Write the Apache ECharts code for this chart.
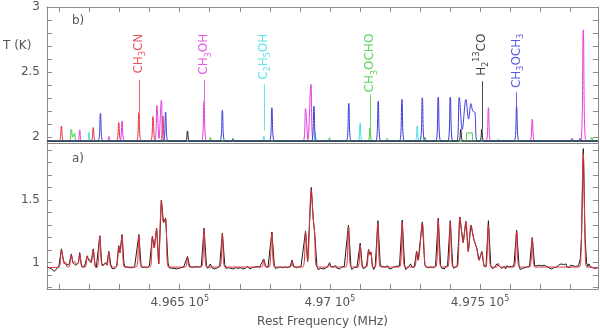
<!DOCTYPE html>
<html>
<head>
<meta charset="utf-8">
<script src="https://cdn.jsdelivr.net/npm/echarts@6.0.0/dist/echarts.min.js"></script>
<style>
  html, body { margin: 0; padding: 0; background: #fff; }
  #chart { width: 600px; height: 329px; }
</style>
</head>
<body>
<div id="chart"></div>
<script>
// x range of both panels (MHz)
const freqMin = 496058;
const freqMax = 497893;

// tick positions and labels
const xTickValues = [496100, 496200, 496300, 496400, 496500, 496600, 496700, 496800, 496900,
  497000, 497100, 497200, 497300, 497400, 497500, 497600, 497700, 497800];
const xLabelValues = [496500, 497000, 497500];
const topTickValues = [2.0, 2.1, 2.2, 2.3, 2.4, 2.5, 2.6, 2.7, 2.8, 2.9, 3.0];
const topLabelValues = [2, 2.5, 3];
const botTickValues = [0.8, 0.9, 1.0, 1.1, 1.2, 1.3, 1.4, 1.5, 1.6, 1.7, 1.8, 1.9];
const botLabelValues = [1, 1.5];

// b) individual species models (offset by +1 K)
const topCH3CN = [[496058,1.97],[496098,1.97],[496106,2.086],[496114,1.97],[496204,1.97],[496212,2.074],[496220,1.97],
  [496289,1.97],[496297,2.112],[496305,1.97],[496356,1.97],[496364,2.189],[496372,1.97],[496403,1.97],[496411,2.158],
  [496419,1.97],[496436,1.97],[496444,2.163],[496452,1.97],[497893,1.97]];
const topCH3OH = [[496058,1.97],[496160,1.97],[496167,2.056],[496174,1.97],[496258,1.97],[496264,2.005],[496270,1.97],
  [496300,1.97],[496308,2.124],[496316,1.97],[496416,1.97],[496424,2.244],[496431,1.99],[496439,2.285],[496447,1.97],
  [496573,1.97],[496581,2.277],[496589,1.97],[496911,1.97],[496919,2.219],[496927,1.98],[496937,2.405],[496945,1.97],
  [497520,1.97],[497528,2.226],[497536,1.97],[497666,1.97],[497674,2.137],[497682,1.97],[497835,1.97],[497844,2.824],
  [497853,1.97],[497893,1.97]];
const topC2H5OH = [[496058,1.97],[496192,1.97],[496198,2.036],[496204,1.97],[496775,1.97],[496780,2.01],[496785,1.97],
  [496945,1.97],[496951,2.04],[496957,1.97],[497094,1.97],[497101,2.107],[497108,1.97],[497284,1.97],[497291,2.086],
  [497298,1.97],[497556,1.97],[497561,1.985],[497566,1.97],[497893,1.97]];
const topCH3OCHO = [[496058,1.97],[496132,1.97],[496139,2.061],[496144,2.0],[496150,2.03],[496156,1.97],[496597,1.97],
  [496602,1.998],[496607,1.97],[496672,1.97],[496677,1.99],[496682,1.97],[496994,1.97],[496999,1.995],[497004,1.97],
  [497127,1.97],[497134,2.074],[497141,1.97],[497186,1.97],[497191,1.99],[497196,1.97],[497311,1.97],[497317,2.0],
  [497323,1.97],[497452,1.97],[497457,2.036],[497466,2.03],[497473,2.036],[497478,1.97],[497866,1.97],[497872,2.0],
  [497878,1.97],[497893,1.97]];
const topCH3OCH3 = [[496058,1.97],[496228,1.97],[496236,2.183],[496244,1.97],[496445,1.97],[496453,2.193],[496461,1.97],
  [496634,1.97],[496642,2.208],[496650,1.97],[496672,1.97],[496677,1.985],[496682,1.97],[496799,1.97],[496807,2.226],
  [496815,1.97],[496939,1.97],[496947,2.239],[496955,1.97],[497055,1.97],[497063,2.26],[497071,1.97],[497153,1.97],
  [497161,2.277],[497169,1.97],[497232,1.97],[497240,2.29],[497248,1.97],[497300,1.97],[497308,2.303],[497316,1.97],
  [497353,1.97],[497361,2.308],[497369,1.97],[497393,1.97],[497401,2.308],[497409,1.97],[497423,1.97],[497431,2.305],
  [497441,2.06],[497453,2.29],[497462,2.14],[497470,2.257],[497476,2.2],[497483,2.19],[497491,1.97],[497614,1.97],
  [497622,2.234],[497630,1.97],[497800,1.97],[497806,1.99],[497812,1.97],[497828,1.97],[497833,1.99],[497838,1.97],
  [497893,1.97]];
const topH2CO = [[496058,1.97],[496519,1.97],[496526,2.048],[496533,1.97],[497429,1.97],[497436,2.061],[497443,1.97],
  [497499,1.97],[497506,2.061],[497513,1.97],[497893,1.97]];

// a) observed spectrum
const observed = [[496058,0.965],[496062,0.965],[496066,0.958],[496070,0.962],[496074,0.95],[496078,0.935],[496082,0.93],
  [496086,0.935],[496090,0.95],[496094,0.965],[496098,0.975],[496106,1.11],[496112,1.03],[496116,0.995],[496120,1.01],
  [496124,0.98],[496128,0.985],[496132,0.99],[496139,1.07],[496144,1.0],[496147,1.01],[496150,1.0],[496154,0.98],
  [496157,0.99],[496160,0.97],[496163,1.0],[496167,1.08],[496172,0.99],[496176,0.965],[496180,0.955],[496183,0.97],
  [496186,0.975],[496192,1.055],[496197,1.02],[496200,1.03],[496205,1.0],[496212,1.11],[496218,0.98],[496222,0.96],
  [496226,0.97],[496234,1.215],[496240,1.0],[496244,0.975],[496248,0.985],[496253,1.0],[496257,0.98],[496264,1.09],
  [496270,0.99],[496274,0.955],[496278,0.96],[496282,0.95],[496286,0.965],[496290,0.97],[496297,1.135],[496301,1.08],
  [496308,1.225],[496314,1.0],[496318,0.965],[496322,0.955],[496326,0.965],[496330,0.95],[496334,0.96],[496338,0.945],
  [496342,0.96],[496346,0.955],[496350,0.97],[496356,0.98],[496364,1.225],[496371,0.985],[496375,0.96],[496379,0.955],
  [496383,0.965],[496387,0.95],[496391,0.96],[496395,0.955],[496399,0.975],[496403,0.98],[496409,1.21],[496415,1.12],
  [496423,1.275],[496430,0.99],[496439,1.5],[496446,1.32],[496453,1.355],[496461,1.0],[496465,0.96],[496469,0.945],
  [496473,0.955],[496477,0.94],[496481,0.955],[496485,0.96],[496489,0.95],[496493,0.965],[496497,0.955],[496501,0.97],
  [496505,0.96],[496509,0.975],[496513,0.965],[496518,0.975],[496526,1.05],[496533,0.97],[496537,0.96],[496541,0.965],
  [496545,0.955],[496549,0.965],[496553,0.96],[496557,0.97],[496561,0.955],[496565,0.965],[496572,0.975],[496581,1.275],
  [496589,0.975],[496593,0.955],[496597,0.97],[496602,0.99],[496607,0.96],[496611,0.965],[496615,0.95],[496619,0.96],
  [496623,0.955],[496627,0.97],[496633,0.975],[496642,1.235],[496650,0.985],[496654,0.955],[496658,0.965],[496662,0.96],
  [496666,0.975],[496670,0.955],[496674,0.965],[496678,0.95],[496682,0.965],[496686,0.96],[496690,0.97],[496694,0.955],
  [496698,0.965],[496702,0.96],[496706,0.97],[496710,0.95],[496714,0.965],[496718,0.955],[496722,0.96],[496726,0.97],
  [496730,0.955],[496734,0.95],[496738,0.945],[496742,0.96],[496746,0.955],[496750,0.965],[496754,0.96],[496758,0.97],
  [496762,0.955],[496766,0.965],[496772,0.975],[496780,1.03],[496786,0.97],[496790,0.955],[496794,0.965],[496799,0.975],
  [496807,1.245],[496815,0.98],[496819,0.955],[496823,0.94],[496827,0.96],[496831,0.95],[496835,0.965],[496839,0.955],
  [496843,0.96],[496847,0.95],[496851,0.965],[496855,0.955],[496859,0.96],[496863,0.965],[496868,0.97],[496874,1.02],
  [496880,0.97],[496884,0.955],[496888,0.96],[496892,0.95],[496896,0.965],[496900,0.955],[496904,0.97],[496910,0.975],
  [496919,1.25],[496926,1.01],[496938,1.6],[496945,1.34],[496949,1.25],[496957,0.97],[496961,0.945],[496965,0.96],
  [496969,0.955],[496973,0.965],[496977,0.95],[496981,0.96],[496985,0.955],[496989,0.97],[496994,0.975],[496999,1.0],
  [497004,0.965],[497008,0.955],[497012,0.97],[497016,0.96],[497020,0.975],[497024,0.955],[497028,0.965],[497032,0.95],
  [497036,0.96],[497040,0.965],[497044,0.955],[497048,0.97],[497054,0.975],[497062,1.3],[497070,0.97],[497074,0.945],
  [497078,0.955],[497082,0.965],[497086,0.95],[497090,0.96],[497094,0.975],[497101,1.155],[497108,0.975],[497112,0.95],
  [497116,0.96],[497122,0.975],[497129,1.105],[497133,1.065],[497137,1.085],[497142,0.975],[497146,0.945],[497151,0.97],
  [497160,1.335],[497168,0.975],[497172,0.96],[497176,0.97],[497180,0.955],[497184,0.965],[497188,0.96],[497192,0.975],
  [497196,0.955],[497200,0.965],[497204,0.95],[497208,0.96],[497212,0.965],[497216,0.955],[497220,0.97],[497224,0.96],
  [497232,0.975],[497241,1.34],[497249,0.975],[497253,0.945],[497257,0.955],[497261,0.965],[497265,0.97],[497269,0.99],
  [497273,0.965],[497277,0.955],[497281,0.965],[497289,1.09],[497294,1.02],[497308,1.325],[497316,0.985],[497321,0.965],
  [497325,0.98],[497329,0.96],[497333,0.95],[497337,0.965],[497341,0.955],[497345,0.96],[497352,0.975],[497361,1.355],
  [497369,0.975],[497373,0.955],[497377,0.96],[497381,0.95],[497385,0.97],[497392,0.975],[497401,1.335],[497409,0.98],
  [497413,0.955],[497417,0.965],[497424,0.975],[497433,1.365],[497444,1.16],[497453,1.33],[497461,1.09],[497470,1.3],
  [497480,1.18],[497489,1.12],[497497,1.02],[497506,1.09],[497513,0.975],[497517,0.96],[497520,0.97],[497528,1.335],
  [497536,0.975],[497540,0.955],[497544,0.97],[497548,0.96],[497552,0.975],[497556,0.99],[497561,1.0],[497565,0.97],
  [497569,0.98],[497573,0.955],[497577,0.965],[497581,0.97],[497585,0.95],[497589,0.975],[497593,0.96],[497597,0.965],
  [497601,0.955],[497605,0.97],[497613,0.975],[497622,1.26],[497630,0.975],[497634,0.945],[497638,0.935],[497642,0.955],
  [497646,0.94],[497650,0.96],[497654,0.95],[497658,0.965],[497665,0.975],[497674,1.2],[497682,0.975],[497686,0.96],
  [497690,0.975],[497694,0.97],[497698,0.98],[497702,0.965],[497706,0.975],[497710,0.96],[497714,0.98],[497718,0.985],
  [497722,0.97],[497726,0.975],[497730,0.96],[497734,0.965],[497738,0.95],[497742,0.955],[497746,0.96],[497750,0.945],
  [497754,0.965],[497758,0.97],[497762,0.98],[497766,0.975],[497770,0.99],[497774,0.975],[497778,0.985],[497782,0.97],
  [497786,0.99],[497790,0.965],[497794,0.975],[497798,0.96],[497802,0.98],[497806,0.965],[497810,0.975],[497814,0.96],
  [497818,0.97],[497822,0.96],[497828,0.975],[497834,1.03],[497838,1.2],[497844,1.91],[497850,1.2],[497855,1.0],
  [497859,0.97],[497863,0.99],[497867,0.97],[497871,0.98],[497875,0.96],[497879,0.965],[497883,0.955],[497893,0.96]];

// a) full model
const model = [[496058,0.962],[496096,0.962],[496106,1.10],[496116,0.99],[496120,1.005],[496126,0.965],[496131,0.965],
  [496139,1.064],[496145,1.0],[496150,1.012],[496155,0.99],[496160,0.99],[496167,1.069],[496175,0.965],[496185,0.965],
  [496192,1.05],[496197,1.02],[496200,1.028],[496205,1.0],[496212,1.102],[496220,0.965],[496226,0.965],[496234,1.21],
  [496242,0.975],[496253,0.995],[496258,0.98],[496264,1.085],[496272,0.965],[496288,0.965],[496297,1.128],[496301,1.08],
  [496308,1.218],[496316,0.965],[496355,0.965],[496364,1.218],[496373,0.965],[496401,0.965],[496409,1.205],[496415,1.12],
  [496423,1.269],[496430,0.99],[496439,1.495],[496446,1.32],[496453,1.351],[496463,0.965],[496518,0.965],[496526,1.043],
  [496533,0.965],[496572,0.965],[496581,1.269],[496590,0.965],[496633,0.965],[496642,1.225],[496651,0.965],[496772,0.965],
  [496780,1.025],[496787,0.965],[496798,0.965],[496807,1.238],[496816,0.965],[496868,0.965],[496874,1.01],[496880,0.965],
  [496910,0.965],[496919,1.243],[496926,1.01],[496938,1.582],[496945,1.34],[496949,1.25],[496957,0.965],[496994,0.965],
  [496999,0.995],[497004,0.965],[497053,0.965],[497062,1.289],[497071,0.965],[497093,0.965],[497101,1.141],[497109,0.965],
  [497122,0.965],[497129,1.102],[497133,1.06],[497137,1.08],[497143,0.965],[497151,0.965],[497160,1.315],[497169,0.965],
  [497232,0.965],[497241,1.325],[497250,0.965],[497281,0.965],[497289,1.085],[497294,1.02],[497308,1.315],[497317,0.975],
  [497322,0.965],[497352,0.965],[497361,1.34],[497370,0.965],[497392,0.965],[497401,1.325],[497410,0.965],[497424,0.965],
  [497433,1.358],[497444,1.166],[497453,1.325],[497461,1.09],[497470,1.3],[497480,1.18],[497489,1.115],[497497,1.02],
  [497506,1.085],[497514,0.97],[497520,0.965],[497528,1.3],[497537,0.965],[497555,0.965],[497561,0.995],[497567,0.965],
  [497613,0.965],[497622,1.248],[497631,0.965],[497665,0.965],[497674,1.192],[497683,0.965],[497830,0.965],[497836,1.05],
  [497844,1.87],[497851,1.05],[497856,0.965],[497893,0.962]];

// line identifications in panel b)
const labelTexts = ['CH{s|3}CN', 'CH{s|3}OH', 'C{s|2}H{s|5}OH', 'CH{s|3}OCHO', 'H{s|2}{u|13}CO', 'CH{s|3}OCH{s|3}'];
const labelFreqs = [496364, 496581, 496780, 497134, 497506, 497622];
const labelPeaks = [2.189, 2.277, 2.05, 2.074, 2.061, 2.234];
const labelLineTops = [2.44, 2.44, 2.405, 2.33, 2.43, 2.345];
const labelTop = 2.795;

const cRed = '#e0343c', cMag = '#e23ce0', cCyan = '#3ee0e0', cGreen = '#3ccc3c', cBlack = '#222', cBlue = '#3c3cd8';
const axisGrey = '#8c8c8c';
const textGrey = '#555';
const font = 'DejaVu Sans';

const rich = {
  s: { fontSize: 8, lineHeight: 9, verticalAlign: 'bottom' },
  u: { fontSize: 8, lineHeight: 9, verticalAlign: 'top' }
};

function topSeries(data, color, idx) {
  const s = {
    type: 'line', xAxisIndex: 0, yAxisIndex: 0, data: data, showSymbol: false, smooth: 0.35,
    lineStyle: { color: color, width: 1 }, silent: true
  };
  if (idx != null) {
    s.markLine = {
      silent: true, symbol: ['none', 'none'], label: { show: false },
      lineStyle: { color: color, width: 1, type: 'solid', opacity: 0.8 },
      data: [[{ coord: [labelFreqs[idx], labelLineTops[idx]] }, { coord: [labelFreqs[idx], labelPeaks[idx]] }]]
    };
    s.markPoint = {
      silent: true, symbol: 'circle', symbolSize: 1, itemStyle: { color: 'rgba(0,0,0,0)' },
      label: {
        show: true, position: 'inside', rotate: 90, align: 'right', verticalAlign: 'middle',
        formatter: labelTexts[idx], color: color, fontSize: 12, fontFamily: font, lineHeight: 17,
        opacity: 0.85, rich: rich
      },
      data: [{ coord: [labelFreqs[idx], labelTop] }]
    };
  }
  return s;
}

function xAxisBase(grid, pos) {
  return {
    type: 'value', gridIndex: grid, position: pos, min: freqMin, max: freqMax,
    axisLine: { show: true, onZero: false, lineStyle: { color: axisGrey, width: 1 } },
    axisTick: { show: true, inside: true, length: 5, customValues: xTickValues, lineStyle: { color: axisGrey } },
    axisLabel: { show: false }, splitLine: { show: false }
  };
}

function yAxisBase(grid, pos, min, max, ticks) {
  return {
    type: 'value', gridIndex: grid, position: pos, min: min, max: max,
    axisLine: { show: true, onZero: false, lineStyle: { color: axisGrey, width: 1 } },
    axisTick: { show: true, inside: true, length: 5, customValues: ticks, lineStyle: { color: axisGrey } },
    axisLabel: { show: false }, splitLine: { show: false }
  };
}

const chart = echarts.init(document.getElementById('chart'), null, { renderer: 'canvas' });

const xTopBottom = xAxisBase(0, 'bottom');
xTopBottom.axisTick = { show: false };
const xBottom = xAxisBase(1, 'bottom');
xBottom.axisLabel = {
  show: true, customValues: xLabelValues, color: textGrey, fontSize: 12, fontFamily: font, margin: 6,
  lineHeight: 16, formatter: (v) => (v / 1e5) + ' 10{u|5}', rich: rich
};
xBottom.name = 'Rest Frequency (MHz)';
xBottom.nameLocation = 'middle';
xBottom.nameGap = 27;
xBottom.nameTextStyle = { color: textGrey, fontSize: 12, fontFamily: font };

const yTopLeft = yAxisBase(0, 'left', 1.955, 3, topTickValues);
yTopLeft.axisLabel = {
  show: true, customValues: topLabelValues, color: textGrey, fontSize: 12, fontFamily: font, margin: 7,
  formatter: (v) => String(v)
};
const yBotLeft = yAxisBase(1, 'left', 0.79, 1.955, botTickValues);
yBotLeft.axisLabel = {
  show: true, customValues: botLabelValues, color: textGrey, fontSize: 12, fontFamily: font, margin: 7,
  formatter: (v) => String(v)
};

const option = {
  animation: false,
  backgroundColor: '#fff',
  grid: [
    { left: 47, right: 2, top: 7, height: 136 },
    { left: 47, right: 2, top: 143, height: 152 }
  ],
  xAxis: [xTopBottom, xAxisBase(0, 'top'), xBottom],
  yAxis: [yTopLeft, yAxisBase(0, 'right', 1.955, 3, topTickValues), yBotLeft,
    yAxisBase(1, 'right', 0.79, 1.955, botTickValues)],
  graphic: [
    { type: 'text', left: 3, top: 40, style: { text: 'T (K)', fill: textGrey, font: '12px ' + font } },
    { type: 'text', left: 72, top: 15, style: { text: 'b)', fill: textGrey, font: '12px ' + font } },
    { type: 'text', left: 72, top: 153, style: { text: 'a)', fill: textGrey, font: '12px ' + font } }
  ],
  series: [
    topSeries(topCH3CN, cRed, 0),
    topSeries(topCH3OH, cMag, 1),
    topSeries(topC2H5OH, cCyan, 2),
    topSeries(topCH3OCHO, cGreen, 3),
    topSeries(topCH3OCH3, cBlue, 5),
    topSeries(topH2CO, cBlack, 4),
    {
      type: 'line', xAxisIndex: 2, yAxisIndex: 2, data: observed, showSymbol: false, silent: true,
      lineStyle: { color: '#1a1a1a', width: 1 }
    },
    {
      type: 'line', xAxisIndex: 2, yAxisIndex: 2, data: model, showSymbol: false, silent: true, smooth: 0.35,
      lineStyle: { color: cRed, width: 1 }
    }
  ]
};

chart.setOption(option);
</script>
</body>
</html>
